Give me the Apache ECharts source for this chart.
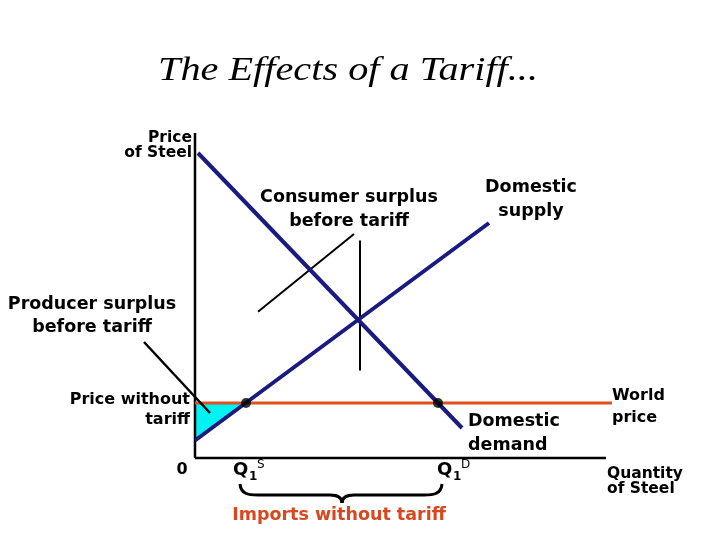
<!DOCTYPE html>
<html>
<head>
<meta charset="utf-8">
<script src="https://cdn.jsdelivr.net/npm/echarts@6/dist/echarts.min.js"></script>
<style>
  html, body { margin: 0; padding: 0; background: #fff; }
  #main { width: 720px; height: 540px; }
</style>
</head>
<body>
<div id="main"></div>
<script>
// data (quantity, price)
var demandLine = [[1, 122], [89, 12]];
var supplyLine = [[0, 7], [98, 94]];
var worldPriceLine = [[0, 22], [139, 22]];
var quantityPoints = [[17, 22], [81, 22]]; // Q1S, Q1D
var producerSurplus = [[0, 22], [0, 7], [17, 22]];
var priceAxisLine = [[0, 0], [0, 130]];
var quantityAxisLine = [[0, 0], [137, 0]];
var consumerPointerA = [[21, 58.5], [53, 89.6]];
var consumerPointerB = [[55, 35], [55, 87]];
var producerPointer = [[-17, 46.4], [5, 18]];

var navy = '#1a1a80';
var orange = '#e0501e';
var bold = 'bold 17.5px "DejaVu Sans"';

var myChart = echarts.init(document.getElementById('main'));

function seg(data, color, width) {
  return {
    type: 'line', data: data, symbol: 'none', silent: true, clip: false,
    lineStyle: { color: color, width: width }, z: 3
  };
}

function txt(x, y, text, align, font, lh, color) {
  return {
    type: 'text', x: x, y: y, z: 10,
    style: {
      text: text, font: font || bold, fill: color || '#000',
      align: align || 'center', verticalAlign: 'middle', lineHeight: lh || 24
    }
  };
}

// curly brace under the quantities
var braceStyle = { fill: null, stroke: '#000', lineWidth: 3 };
var brace = [
  { type: 'bezierCurve', shape: { x1: 240, y1: 484, cpx1: 241, cpy1: 494, cpx2: 248, cpy2: 495, x2: 258, y2: 495 } },
  { type: 'line', shape: { x1: 258, y1: 495, x2: 330, y2: 495 } },
  { type: 'bezierCurve', shape: { x1: 330, y1: 495, cpx1: 339, cpy1: 495, cpx2: 342, cpy2: 498, x2: 342, y2: 503 } },
  { type: 'bezierCurve', shape: { x1: 342, y1: 503, cpx1: 342, cpy1: 498, cpx2: 345, cpy2: 495, x2: 354, y2: 495 } },
  { type: 'line', shape: { x1: 354, y1: 495, x2: 424, y2: 495 } },
  { type: 'bezierCurve', shape: { x1: 424, y1: 495, cpx1: 434, cpy1: 495, cpx2: 441, cpy2: 494, x2: 442, y2: 484 } }
].map(function (el) { el.style = braceStyle; el.z = 10; return el; });

var title = txt(348, 71, 'The Effects of a Tariff...', 'center', 'italic 33px "Liberation Serif"');
title.scaleX = 1.22;

myChart.setOption({
  animation: false,
  grid: { left: 0, right: 0, top: 8, bottom: 2 },
  xAxis: { type: 'value', min: -65, max: 175, show: false },
  yAxis: { type: 'value', min: -32, max: 180, show: false },
  series: [
    {
      type: 'custom',
      data: producerSurplus,
      z: 1,
      renderItem: function (params, api) {
        if (params.dataIndex > 0) return;
        return {
          type: 'polygon',
          shape: { points: producerSurplus.map(function (p) { return api.coord(p); }) },
          style: { fill: '#00f2f2' }
        };
      }
    },
    seg(priceAxisLine, '#000', 2.5),
    seg(quantityAxisLine, '#000', 2.5),
    seg(worldPriceLine, orange, 3),
    seg(consumerPointerA, '#000', 2),
    seg(consumerPointerB, '#000', 2),
    seg(producerPointer, '#000', 2.5),
    seg(demandLine, navy, 4),
    seg(supplyLine, navy, 4),
    {
      type: 'scatter', data: quantityPoints, symbolSize: 10, z: 5,
      itemStyle: { color: '#000' }
    }
  ],
  graphic: [
    title,
    txt(192, 145, 'Price\nof Steel', 'right', 'bold 15.5px "DejaVu Sans"', 15),
    txt(349, 209, 'Consumer surplus\nbefore tariff', 'center'),
    txt(531, 199, 'Domestic\nsupply', 'center'),
    txt(92, 316, 'Producer surplus\nbefore tariff', 'center', bold, 23),
    txt(190, 410, 'Price without\ntariff', 'right', 'bold 16px "DejaVu Sans"', 20),
    txt(182, 470, '0', 'center', 'bold 16px "DejaVu Sans"'),
    txt(468, 433, 'Domestic\ndemand', 'left'),
    txt(612, 407, 'World\nprice', 'left', 'bold 16px "DejaVu Sans"', 22),
    txt(607, 481, 'Quantity\nof Steel', 'left', 'bold 15.5px "DejaVu Sans"', 15),
    txt(233, 470, 'Q', 'left', 'bold 18px "DejaVu Sans"'),
    txt(249, 477, '1', 'left', 'bold 12px "DejaVu Sans"'),
    txt(257, 465, 'S', 'left', '12px "DejaVu Sans"'),
    txt(437, 470, 'Q', 'left', 'bold 18px "DejaVu Sans"'),
    txt(453, 477, '1', 'left', 'bold 12px "DejaVu Sans"'),
    txt(461, 465, 'D', 'left', '12px "DejaVu Sans"'),
    txt(339, 515, 'Imports without tariff', 'center', bold, 24, '#d8481c')
  ].concat(brace)
});
</script>
</body>
</html>
